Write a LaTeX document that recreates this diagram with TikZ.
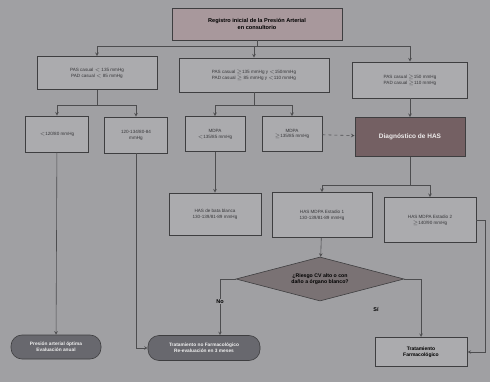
\documentclass[tikz,border=0pt]{standalone}
\usepackage{amsmath, fontspec}
\setmainfont{Liberation Sans}
\usetikzlibrary{arrows.meta, calc, shapes.geometric}
\definecolor{fondo}{RGB}{160,160,163}
\definecolor{borde}{RGB}{62,62,64}
\definecolor{textocaja}{RGB}{55,55,58}
\definecolor{titulo}{RGB}{168,152,156}
\definecolor{diagcol}{RGB}{116,96,99}
\definecolor{pildora}{RGB}{104,104,110}
\definecolor{rombo}{RGB}{122,114,116}

\begin{document}
\begin{tikzpicture}[x=1pt, y=-1pt, >=stealth,
  caja/.style={draw=borde, line width=0.9pt, fill=fondo!88!white, text=textocaja, align=center,
    font=\fontsize{4.6}{5.8}\selectfont, inner sep=1pt},
  oscura/.style={caja, fill=diagcol, text=white!88!diagcol, font=\fontsize{6.5}{8}\selectfont\bfseries},
  fin/.style={draw=borde, line width=0.6pt, fill=pildora, text=white!90!pildora, rounded corners=11pt,
    align=center, font=\fontsize{4.8}{6}\selectfont\bfseries, inner sep=1pt},
  flecha/.style={draw=borde!85!fondo, line width=0.6pt}]
\useasboundingbox (0,0) rectangle (490,382);
\fill[fondo] (0,0) rectangle (490,382);

% titulo
\node[caja, fill=titulo, text=black, font=\fontsize{5.6}{7}\selectfont\bfseries,
  minimum width=170pt, minimum height=32pt] (tit) at (257,24)
  {Registro inicial de la Presión Arterial\\en consultorio};

% primera fila
\node[caja, minimum width=120pt, minimum height=33pt] (pas1) at (97,73)
  {PAS casual $<$ 135 mmHg\\PAD casual $<$ 85 mmHg};
\node[caja, minimum width=150pt, minimum height=34pt] (pas2) at (254,75)
  {PAS casual $\geq$135 mmHg y $<$150mmHg\\PAD casual $\geq$ 85 mmHg y $<$110 mmHg};
\node[caja, minimum width=115pt, minimum height=36pt] (pas3) at (410,80)
  {PAS casual $\geq$150 mmHg\\PAD casual $\geq$110 mmHg};

% segunda fila
\node[caja, minimum width=63pt, minimum height=36pt] (opt) at (57,134) {$<$120/80 mmHg};
\node[caja, minimum width=63pt, minimum height=36pt] (norm) at (136,135) {120-134/80-84\\mmHg};
\node[caja, minimum width=60pt, minimum height=35pt] (mdpa1) at (215,134) {MDPA\\$<$135/85 mmHg};
\node[caja, minimum width=60pt, minimum height=35pt] (mdpa2) at (292,134) {MDPA\\$\geq$135/85 mmHg};
\node[oscura, minimum width=110pt, minimum height=39pt] (diag) at (410,137) {Diagnóstico de HAS};

% tercera fila
\node[caja, minimum width=92pt, minimum height=42pt] (bata) at (215,214)
  {HAS de bata blanca\\130-139/81-89 mmHg};
\node[caja, minimum width=100pt, minimum height=45pt] (est1) at (322,215)
  {HAS MDPA Estadio 1\\130-139/81-89 mmHg};
\node[caja, minimum width=92pt, minimum height=45pt] (est2) at (430,220)
  {HAS MDPA Estadio 2\\$\geq$140/90 mmHg};

% decision
\node[diamond, aspect=3.8, draw=borde, line width=0.6pt, fill=rombo, align=center, inner sep=0.5pt,
  minimum width=168pt, minimum height=44pt, font=\fontsize{5.2}{6.4}\selectfont\bfseries] (riesgo) at (320,279)
  {¿Riesgo CV alto o con\\daño a órgano blanco?};

% finales
\node[fin, minimum width=90pt, minimum height=24pt] (anual) at (56,347)
  {Presión arterial óptima\\Evaluación anual};
\node[fin, minimum width=112pt, minimum height=25pt] (nofarm) at (204,348)
  {Tratamiento no Farmacológico\\Re-evaluación en 3 meses};
\node[caja, line width=1pt, text=black, font=\fontsize{5}{6.2}\selectfont\bfseries,
  minimum width=92pt, minimum height=29pt] (farm) at (421,352) {Tratamiento\\Farmacológico};

% conectores
\coordinate (bus1) at (257,46);
\coordinate (bus2) at (97,105);
\coordinate (bus3) at (254,105);
\coordinate (bus4) at (410,185);
\draw[flecha] (tit) -- (bus1);
\draw[flecha, ->] (bus1) -| (pas1);
\draw[flecha, ->] (bus1) -| (pas2);
\draw[flecha, ->] (bus1) -| (pas3);
\draw[flecha] (pas1) -- (bus2);
\draw[flecha, ->] (bus2) -| (opt);
\draw[flecha, ->] (bus2) -| (norm);
\draw[flecha] (pas2) -- (bus3);
\draw[flecha, ->] (bus3) -| (mdpa1);
\draw[flecha, ->] (bus3) -| (mdpa2);
\draw[flecha, ->] (pas3) -- (diag);
\draw[flecha, dashed, ->] (mdpa2) -- (diag);
\draw[flecha] (diag) -- (bus4);
\draw[flecha, ->] (bus4) -| (est1);
\draw[flecha, ->] (bus4) -| (est2);
\draw[flecha, ->] (mdpa1) -- (bata);
\draw[flecha, ->] (est1) -- (riesgo);
\draw[flecha, ->] (opt) -- (anual);
\draw[flecha, ->] (norm) |- (nofarm);
\draw[flecha, ->] (riesgo.west) -| ([xshift=16pt]nofarm.north)
  node[pos=0.7, fill=fondo, inner sep=1pt, font=\fontsize{5.5}{6.5}\selectfont\bfseries] (lno) {No};
\draw[flecha, ->] (riesgo.east) -| (farm);
\node[font=\fontsize{5.5}{6.5}\selectfont\bfseries] (lsi) at (376,310) {Sí};
\draw[flecha, ->] (est2.east) -- ++(9,0) |- (farm.east);
\end{tikzpicture}
\end{document}
